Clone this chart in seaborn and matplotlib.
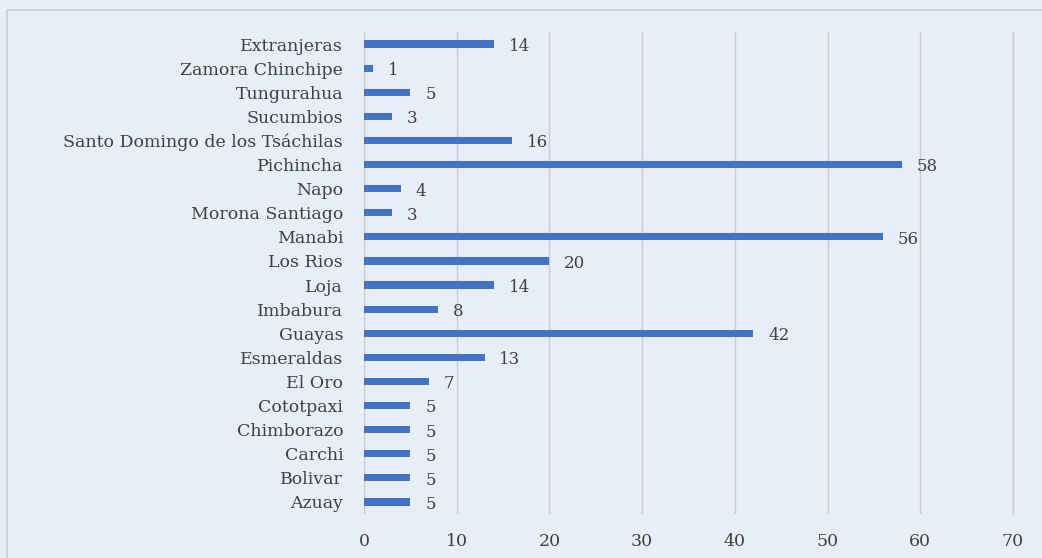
import matplotlib.pyplot as plt
import matplotlib.patches as patches
import seaborn as sns
import pandas as pd

# datos: provincias y cantidad
provincias = ['Extranjeras', 'Zamora Chinchipe', 'Tungurahua', 'Sucumbios',
              'Santo Domingo de los Tsáchilas', 'Pichincha', 'Napo', 'Morona Santiago',
              'Manabi', 'Los Rios', 'Loja', 'Imbabura', 'Guayas', 'Esmeraldas',
              'El Oro', 'Cototpaxi', 'Chimborazo', 'Carchi', 'Bolivar', 'Azuay']
cantidad = [14, 1, 5, 3, 16, 58, 4, 3, 56, 20, 14, 8, 42, 13, 7, 5, 5, 5, 5, 5]
ticks_x = [0, 10, 20, 30, 40, 50, 60, 70]

df = pd.DataFrame({'provincia': provincias, 'cantidad': cantidad})

bg = '#E7EEF8'
txt = '#404040'
sns.set_style('white')
plt.rcParams['font.family'] = ['DejaVu Serif']

fig = plt.figure(figsize=(10.42, 5.58), dpi=100, facecolor=bg)
# borde exterior del grafico
fig.patches.append(patches.Rectangle((7 / 1042, -0.1), 1.1, 1 - 10 / 558 + 0.1,
                                     transform=fig.transFigure, fill=False,
                                     edgecolor='#C8CFD9', linewidth=1.2))
ax = fig.add_axes([364 / 1042, 1 - 514 / 558, (1013 - 364) / 1042, (514 - 32) / 558])
ax.set_facecolor(bg)

sns.barplot(data=df, x='cantidad', y='provincia', color='#4472C4', width=0.3,
            saturation=1, linewidth=0, ax=ax)

# etiquetas de valor
for i, v in enumerate(cantidad):
    ax.text(v + 1.6, i + 0.1, str(v), va='center', ha='left', fontsize=12, color=txt)

ax.set_xlim(0, 70)
ax.set_xticks(ticks_x)
ax.set_xlabel('')
ax.set_ylabel('')
ax.grid(axis='x', color='#C8CDD5', linewidth=1)
ax.set_axisbelow(True)
for s in ax.spines.values():
    s.set_visible(False)
ax.axvline(0, color='#C8CDD5', linewidth=1, zorder=0)
ax.axvline(70, color='#C8CDD5', linewidth=1, zorder=0, clip_on=False)
ax.tick_params(axis='both', length=0, labelsize=12.5, labelcolor=txt)
ax.tick_params(axis='x', pad=14)
ax.tick_params(axis='y', pad=15)

plt.savefig('out.png', dpi=100, facecolor=bg)
